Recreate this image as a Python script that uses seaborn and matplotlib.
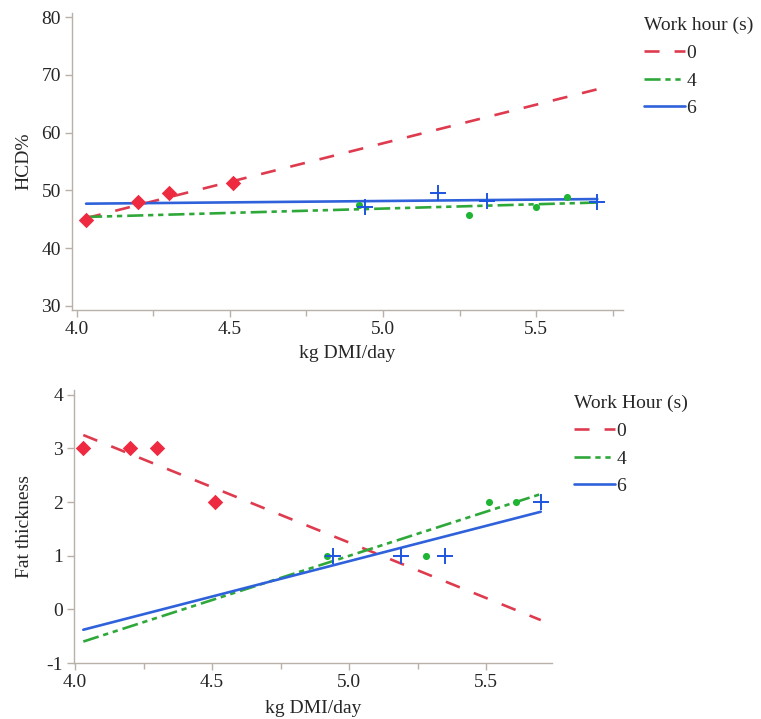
import matplotlib
matplotlib.use("Agg")
import matplotlib.pyplot as plt
from matplotlib.lines import Line2D
from matplotlib.ticker import MultipleLocator, FormatStrFormatter
import seaborn as sns
import pandas as pd

# work hour groups
groups = ["0", "4", "6"]

# observed points, HCD% panel
hcd_x = {"0": [4.03, 4.20, 4.30, 4.51],
         "4": [4.92, 5.28, 5.50, 5.60],
         "6": [4.94, 5.18, 5.34, 5.70]}
hcd_y = {"0": [44.9, 48.0, 49.5, 51.3],
         "4": [47.5, 45.7, 47.2, 48.8],
         "6": [47.2, 49.5, 48.2, 48.0]}

# fitted line ends, HCD% panel
fit_x = [4.03, 5.70]
hcd_fit = {"0": [45.2, 67.5],
           "4": [45.4, 47.9],
           "6": [47.7, 48.5]}

# observed points, fat thickness panel
fat_x = {"0": [4.03, 4.20, 4.30, 4.51],
         "4": [4.92, 5.28, 5.51, 5.61],
         "6": [4.94, 5.19, 5.35, 5.70]}
fat_y = {"0": [3, 3, 3, 2],
         "4": [1, 1, 2, 2],
         "6": [1, 1, 1, 2]}
fat_fit = {"0": [3.25, -0.20],
           "4": [-0.60, 2.15],
           "6": [-0.38, 1.82]}

colors = {"0": "#de3b4f", "4": "#2fa83a", "6": "#2f62da"}
pt_colors = {"0": "#ee2a40", "4": "#1fb534", "6": "#1c55e0"}
dashes = {"0": (5.7, 5.7), "4": (6.1, 1.8, 2.0, 1.8, 2.0, 1.9), "6": ""}

sns.set_style("white")
plt.rcParams["font.family"] = ["Liberation Serif", "DejaVu Serif"]
plt.rcParams["axes.unicode_minus"] = False
FS = 14


def make_frames(xs, ys, fits):
    pts = []
    lines = []
    for g in groups:
        for a, b in zip(xs[g], ys[g]):
            pts.append({"x": a, "y": b, "grp": g})
        for a, b in zip(fit_x, fits[g]):
            lines.append({"x": a, "y": b, "grp": g})
    return pd.DataFrame(pts), pd.DataFrame(lines)


fig = plt.figure(figsize=(7.61, 7.19), dpi=100)
ax1 = fig.add_axes([72 / 761, 1 - 310 / 719, 551 / 761, 297 / 719])
ax2 = fig.add_axes([74 / 761, 1 - 663 / 719, 478 / 761, 273 / 719])

spine_col = "#b9b1a8"


def draw(ax, xs, ys, fits):
    pts, lines = make_frames(xs, ys, fits)
    sns.lineplot(data=lines, x="x", y="y", hue="grp", style="grp",
                 palette=colors, dashes=dashes, linewidth=1.9,
                 legend=False, ax=ax, sort=False)
    for g in groups:
        sub = pts[pts["grp"] == g]
        if g == "0":
            sns.scatterplot(data=sub, x="x", y="y", color=pt_colors[g],
                            marker="D", s=62, linewidth=0, ax=ax, zorder=3)
        elif g == "4":
            sns.scatterplot(data=sub, x="x", y="y", color=pt_colors[g],
                            marker="o", s=26, linewidth=0, ax=ax, zorder=3)
        else:
            ax.scatter(sub["x"], sub["y"], color=pt_colors[g], marker="+",
                       s=120, linewidths=1.4, zorder=3)
    for s in ["top", "right"]:
        ax.spines[s].set_visible(False)
    for s in ["left", "bottom"]:
        ax.spines[s].set_color(spine_col)
        ax.spines[s].set_linewidth(1.0)
    ax.xaxis.set_major_locator(MultipleLocator(0.5))
    ax.xaxis.set_minor_locator(MultipleLocator(0.25))
    ax.xaxis.set_major_formatter(FormatStrFormatter("%.1f"))
    ax.tick_params(axis="both", which="major", direction="out", length=5,
                   width=1, color=spine_col, labelsize=FS, pad=3,
                   left=True, bottom=True)
    ax.tick_params(axis="x", which="minor", direction="out", length=4,
                   width=1, color=spine_col, bottom=True)
    ax.set_xlabel("kg DMI/day", fontsize=FS)


draw(ax1, hcd_x, hcd_y, hcd_fit)
ax1.set_xlim(3.984, 5.784)
ax1.set_ylim(29.3, 80.7)
ax1.set_yticks([30, 40, 50, 60, 70, 80])
ax1.set_ylabel("HCD%", fontsize=FS)
ax1.xaxis.set_label_coords(0.5, -0.145)
ax1.yaxis.set_label_coords(-0.088, 0.5)

draw(ax2, fat_x, fat_y, fat_fit)
ax2.set_xlim(3.996, 5.741)
ax2.set_ylim(-1.0, 4.09)
ax2.set_yticks([-1, 0, 1, 2, 3, 4])
ax2.set_ylabel("Fat thickness", fontsize=FS)
ax2.xaxis.set_label_coords(0.5, -0.165)
ax2.yaxis.set_label_coords(-0.103, 0.5)
for ax in (ax1, ax2):
    ax.xaxis.label.set_va("center")
    ax.yaxis.label.set_va("center")


def legend_handles():
    hs = []
    for g in groups:
        ls = "-" if g == "6" else (0, dashes[g])
        hs.append(Line2D([0], [0], color=colors[g], lw=1.9, linestyle=ls))
    return hs


for title, anchor in [("Work hour (s)", (636 / 761, 1 - 9 / 719)),
                      ("Work Hour (s)", (566 / 761, 1 - 387 / 719))]:
    fig.legend(legend_handles(), groups, title=title, loc="upper left",
               bbox_to_anchor=anchor, frameon=False, fontsize=FS,
               title_fontsize=FS, alignment="left", handlelength=2.1,
               handletextpad=0.1, labelspacing=0.52, borderaxespad=0)

fig.savefig("out.png", dpi=100)
